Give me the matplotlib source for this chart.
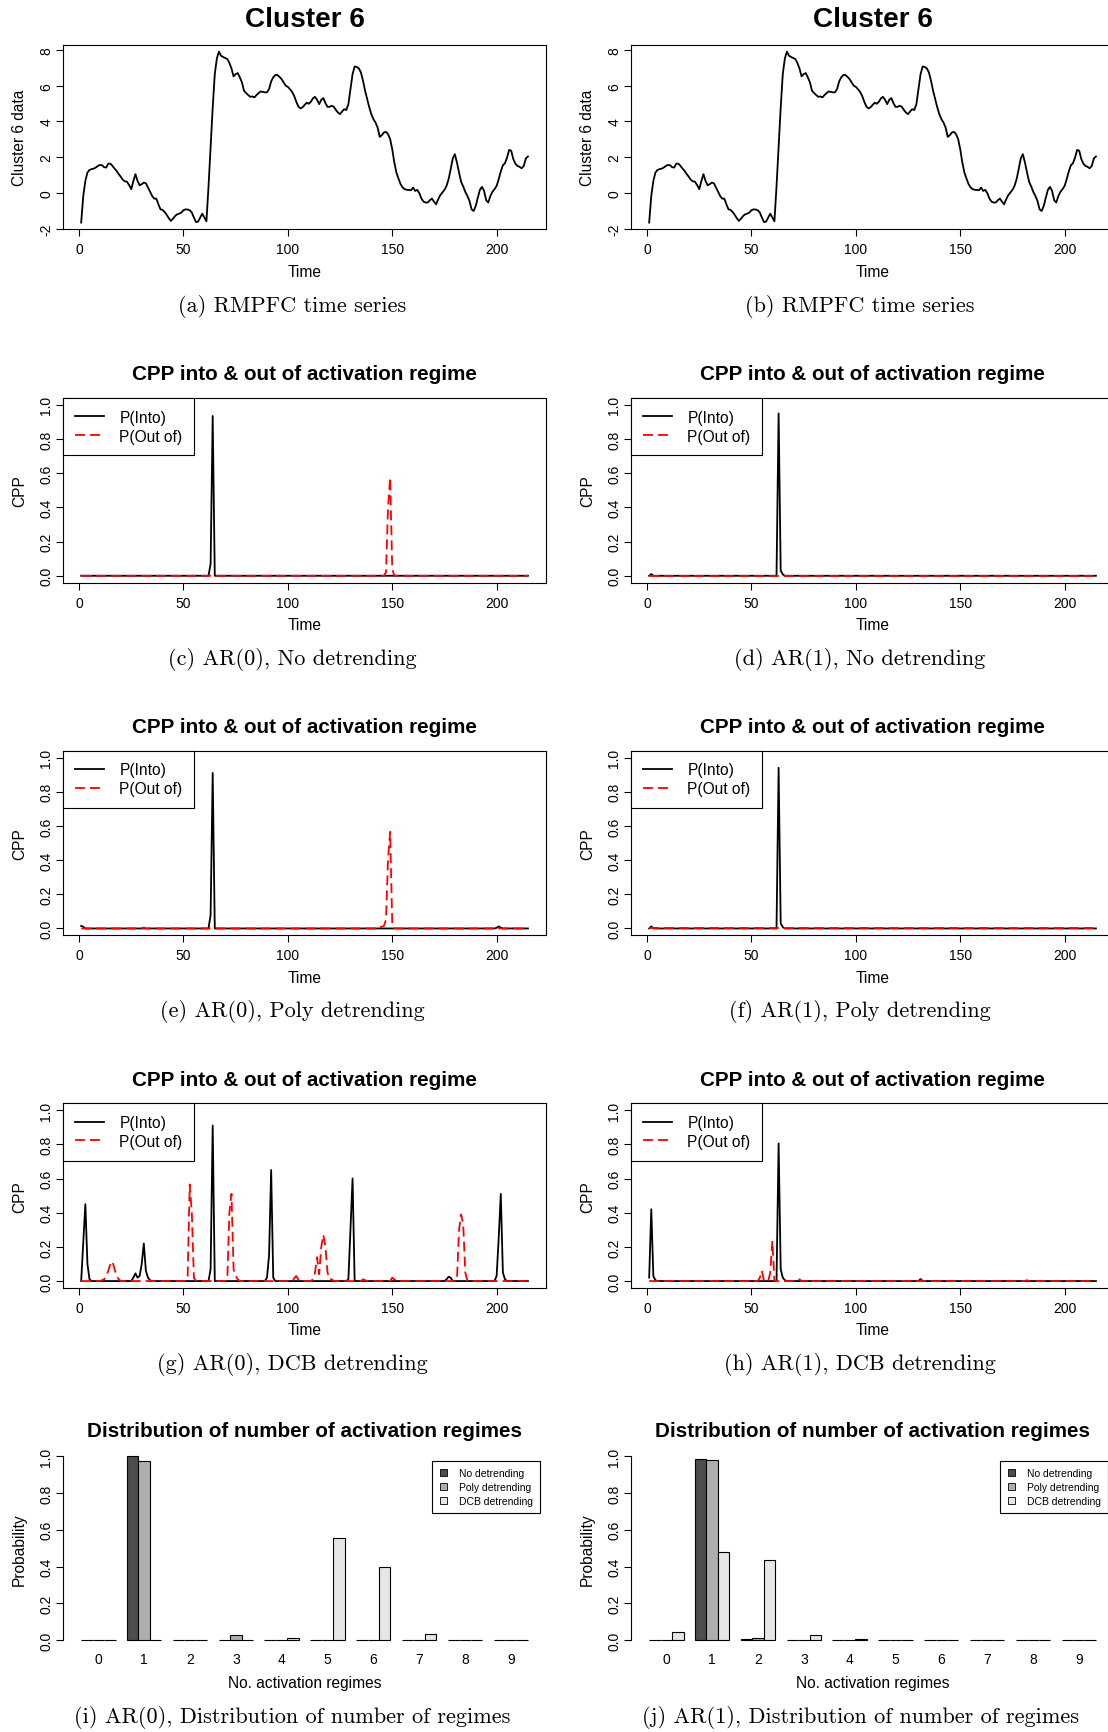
import numpy as np
import matplotlib
matplotlib.use("Agg")
import matplotlib.pyplot as plt
from matplotlib.patches import Patch

plt.rcParams['font.family'] = ['Liberation Sans', 'DejaVu Sans']
plt.rcParams['axes.unicode_minus'] = False

# RMPFC cluster 6 signal, t = 1..215
cluster6 = [
    -1.66, -0.17, 0.67, 1.14, 1.29, 1.33, 1.36, 1.42, 1.51, 1.57,
    1.55, 1.44, 1.42, 1.64, 1.64, 1.51, 1.36, 1.23, 1.05, 0.90,
    0.73, 0.65, 0.62, 0.43, 0.21, 0.67, 1.05, 0.67, 0.43, 0.49,
    0.58, 0.54, 0.30, 0.06, -0.17, -0.32, -0.32, -0.64, -0.92, -0.95,
    -1.07, -1.23, -1.42, -1.57, -1.44, -1.29, -1.20, -1.16, -1.10, -0.97,
    -0.92, -0.93, -0.97, -1.10, -1.38, -1.63, -1.61, -1.38, -1.16, -1.38,
    -1.59, 0.36, 2.56, 4.77, 6.65, 7.53, 7.91, 7.68, 7.61, 7.55,
    7.50, 7.27, 6.97, 6.52, 6.65, 6.71, 6.47, 6.19, 5.72, 5.59,
    5.48, 5.38, 5.40, 5.35, 5.48, 5.59, 5.68, 5.66, 5.63, 5.63,
    5.81, 6.24, 6.47, 6.60, 6.60, 6.50, 6.37, 6.19, 6.00, 5.94,
    5.81, 5.66, 5.44, 5.12, 4.84, 4.73, 4.79, 4.92, 5.05, 4.99,
    5.10, 5.29, 5.38, 5.21, 4.97, 5.21, 5.31, 5.03, 4.82, 4.82,
    4.88, 4.82, 4.65, 4.50, 4.41, 4.56, 4.69, 4.64, 4.97, 5.81,
    6.65, 7.08, 7.05, 6.97, 6.75, 6.28, 5.72, 5.25, 4.79, 4.41,
    4.13, 3.94, 3.66, 3.14, 3.23, 3.38, 3.42, 3.29, 3.01, 2.45,
    1.70, 1.14, 0.80, 0.49, 0.30, 0.21, 0.17, 0.17, 0.15, 0.30,
    0.11, 0.17, -0.02, -0.32, -0.49, -0.54, -0.54, -0.41, -0.32, -0.49,
    -0.64, -0.36, -0.13, 0.02, 0.17, 0.39, 0.77, 1.33, 1.93, 2.17,
    1.70, 1.14, 0.62, 0.36, 0.06, -0.17, -0.45, -0.92, -1.01, -0.73,
    -0.26, 0.17, 0.34, 0.11, -0.41, -0.54, -0.17, 0.06, 0.21, 0.39,
    0.77, 1.20, 1.55, 1.66, 1.98, 2.41, 2.36, 1.89, 1.64, 1.51,
    1.46, 1.38, 1.51, 1.93, 2.04,
]
n_time = len(cluster6)

# change-point probabilities, {time: prob}; zero at every other time
into_ar0_none = {63: 0.07, 64: 0.935}
out_ar0_none = {147: 0.02, 148: 0.40, 149: 0.575, 150: 0.04}
into_ar1_none = {2: 0.01, 63: 0.95, 64: 0.03, 65: 0.008}
out_ar1_none = {}
into_ar0_poly = {1: 0.015, 2: 0.01, 63: 0.08, 64: 0.91, 200: 0.004, 201: 0.012, 202: 0.005}
out_ar0_poly = {31: 0.006, 144: 0.008, 145: 0.01, 146: 0.015, 147: 0.05,
                148: 0.41, 149: 0.565, 150: 0.03, 200: 0.004}
into_ar1_poly = {2: 0.012, 63: 0.94, 64: 0.03, 65: 0.008}
out_ar1_poly = {}
into_ar0_dcb = {2: 0.22, 3: 0.45, 4: 0.10, 5: 0.01,
                26: 0.02, 27: 0.045, 28: 0.02, 29: 0.03, 30: 0.10, 31: 0.22,
                32: 0.06, 33: 0.02, 34: 0.005,
                63: 0.07, 64: 0.91,
                90: 0.02, 91: 0.15, 92: 0.65, 93: 0.02,
                129: 0.01, 130: 0.30, 131: 0.60,
                176: 0.01, 177: 0.025, 178: 0.02,
                200: 0.03, 201: 0.25, 202: 0.51, 203: 0.05, 204: 0.01}
out_ar0_dcb = {11: 0.005, 12: 0.01, 13: 0.03, 14: 0.06, 15: 0.10, 16: 0.115,
               17: 0.07, 18: 0.03, 19: 0.01,
               52: 0.03, 53: 0.565, 54: 0.40, 55: 0.02,
               71: 0.01, 72: 0.40, 73: 0.51, 74: 0.07, 75: 0.03, 76: 0.01,
               103: 0.015, 104: 0.03, 105: 0.01,
               112: 0.01, 113: 0.05, 114: 0.14, 115: 0.04, 116: 0.20, 117: 0.27,
               118: 0.20, 119: 0.05, 120: 0.01, 121: 0.01,
               136: 0.01, 137: 0.005, 150: 0.02, 151: 0.01,
               181: 0.01, 182: 0.30, 183: 0.39, 184: 0.33, 185: 0.05}
into_ar1_dcb = {1: 0.02, 2: 0.42, 3: 0.03, 4: 0.005,
                63: 0.805, 64: 0.07, 65: 0.02, 66: 0.005, 131: 0.012}
out_ar1_dcb = {54: 0.02, 55: 0.06, 59: 0.05, 60: 0.235,
               71: 0.01, 72: 0.012, 73: 0.01, 78: 0.012, 182: 0.005}

# posterior distribution of the number of activation regimes
n_regimes = list(range(10))
ar0_no_detrend = [0, 1.0, 0.003, 0, 0.002, 0, 0, 0, 0, 0]
ar0_poly_detrend = [0, 0.973, 0.002, 0.027, 0.002, 0, 0, 0, 0, 0]
ar0_dcb_detrend = [0, 0, 0, 0, 0.012, 0.555, 0.398, 0.035, 0.001, 0]
ar1_no_detrend = [0.002, 0.985, 0.008, 0, 0, 0, 0, 0, 0, 0]
ar1_poly_detrend = [0.001, 0.98, 0.013, 0.001, 0.002, 0, 0, 0, 0, 0]
ar1_dcb_detrend = [0.047, 0.48, 0.435, 0.026, 0.006, 0.002, 0, 0, 0, 0]

detrend_names = ['No detrending', 'Poly detrending', 'DCB detrending']
bar_greys = ['#4D4D4D', '#AEAEAE', '#E6E6E6']

W, H = 1108, 1733
fig = plt.figure(figsize=(W / 100, H / 100), dpi=100)

COL_X = [63.3, 631.3]
CAP_X = [292.0, 860.0]
AX_W, AX_H = 482.5, 184.6
ROW_TOP = [45.8, 399.0, 751.7, 1104.3]
ROW_STEP = 352.7
BAR_TOP, BAR_H = 1450.0, 198.5

TICK_FS, LAB_FS, TITLE_FS = 10, 11.2, 14.9
LW = 1.3


def add_axes_px(left, top, width, height):
    return fig.add_axes([left / W, 1 - (top + height) / H, width / W, height / H])


def r_axes(ax):
    for s in ax.spines.values():
        s.set_linewidth(0.8)
    ax.tick_params(direction='out', length=4.8, width=0.8, labelsize=TICK_FS)
    ax.tick_params(axis='x', pad=4.5)
    ax.tick_params(axis='y', pad=2.5, labelrotation=90)


def finish_labels(ax, xlab, ylab, h, xlab_off=42):
    for lbl in ax.get_yticklabels():
        lbl.set_va('center')
    ax.text(0.5, -xlab_off / h, xlab, transform=ax.transAxes,
            ha='center', va='center', fontsize=LAB_FS)
    ax.text(-44 / AX_W, 0.5, ylab, transform=ax.transAxes, rotation=90,
            ha='center', va='center', fontsize=LAB_FS)


def r_range(lo, hi):
    pad = 0.04 * (hi - lo)
    return lo - pad, hi + pad


def fig_text(x, y, s, **kw):
    fig.text(x / W, 1 - y / H, s, ha='center', va='center', **kw)


def expand(probs):
    vals = np.zeros(n_time)
    for t, p in probs.items():
        vals[t - 1] = p
    return vals


t = np.arange(1, n_time + 1)
xlim = r_range(1, n_time)

# row 1: raw time series
for col in range(2):
    ax = add_axes_px(COL_X[col], ROW_TOP[0], AX_W, AX_H)
    ax.plot(t, cluster6, color='black', lw=LW)
    ax.set_xlim(*xlim)
    ax.set_ylim(*r_range(min(cluster6), max(cluster6)))
    ax.set_xticks([0, 50, 100, 150, 200])
    ax.set_yticks([-2, 0, 2, 4, 6, 8])
    r_axes(ax)
    finish_labels(ax, 'Time', 'Cluster 6 data', AX_H)
    fig_text(COL_X[col] + AX_W / 2, 20, 'Cluster 6', fontsize=20.2, fontweight='bold')

# rows 2-4: change-point probabilities
cpp_panels = [
    [(into_ar0_none, out_ar0_none), (into_ar1_none, out_ar1_none)],
    [(into_ar0_poly, out_ar0_poly), (into_ar1_poly, out_ar1_poly)],
    [(into_ar0_dcb, out_ar0_dcb), (into_ar1_dcb, out_ar1_dcb)],
]
for r, row in enumerate(cpp_panels, start=1):
    for col, (p_into, p_out) in enumerate(row):
        ax = add_axes_px(COL_X[col], ROW_TOP[r], AX_W, AX_H)
        ax.plot(t, expand(p_into), color='black', lw=LW, label='P(Into)')
        ax.plot(t, expand(p_out), color='red', lw=LW, linestyle=(0, (5.5, 2.8)),
                label='P(Out of)')
        ax.set_xlim(*xlim)
        ax.set_ylim(*r_range(0, 1))
        ax.set_xticks([0, 50, 100, 150, 200])
        ax.set_yticks(np.arange(0, 1.01, 0.2))
        ax.set_yticklabels(['0.0', '0.2', '0.4', '0.6', '0.8', '1.0'])
        r_axes(ax)
        leg = ax.legend(loc='upper left', borderaxespad=0, fontsize=LAB_FS,
                        fancybox=False, edgecolor='black', framealpha=1,
                        borderpad=0.75, labelspacing=0.25, handlelength=1.86,
                        handletextpad=1.0)
        leg.get_frame().set_linewidth(0.8)
        finish_labels(ax, 'Time', 'CPP', AX_H)
        fig_text(COL_X[col] + AX_W / 2, ROW_TOP[r] - 24,
                 'CPP into & out of activation regime',
                 fontsize=TITLE_FS, fontweight='bold')

# row 5: number of activation regimes
bar_sets = [
    [ar0_no_detrend, ar0_poly_detrend, ar0_dcb_detrend],
    [ar1_no_detrend, ar1_poly_detrend, ar1_dcb_detrend],
]
group_x = np.array(n_regimes) * 4 + 2.5
for col, series in enumerate(bar_sets):
    ax = add_axes_px(COL_X[col], BAR_TOP, AX_W, BAR_H)
    for k, vals in enumerate(series):
        ax.bar(group_x - 1 + k, vals, width=1.0, color=bar_greys[k],
               edgecolor='black', linewidth=0.8)
    ax.set_xlim(*r_range(1, 40))
    ax.set_ylim(*r_range(0, 1))
    for side in ['top', 'right', 'bottom']:
        ax.spines[side].set_visible(False)
    ax.spines['left'].set_bounds(0, 1)
    ax.set_xticks(group_x)
    ax.set_xticklabels([str(v) for v in n_regimes])
    ax.set_yticks(np.arange(0, 1.01, 0.2))
    ax.set_yticklabels(['0.0', '0.2', '0.4', '0.6', '0.8', '1.0'])
    r_axes(ax)
    ax.tick_params(axis='x', length=0, pad=3.2)
    handles = [Patch(facecolor=c, edgecolor='black', linewidth=0.6) for c in bar_greys]
    leg = ax.legend(handles, detrend_names, loc='upper right',
                    bbox_to_anchor=(0.988, 0.941), borderaxespad=0, fontsize=7.45,
                    fancybox=False, edgecolor='black', framealpha=1,
                    borderpad=0.7, labelspacing=0.4, handlelength=0.75,
                    handleheight=0.75, handletextpad=1.1)
    leg.get_frame().set_linewidth(0.8)
    finish_labels(ax, 'No. activation regimes', 'Probability', BAR_H, xlab_off=35.5)
    fig_text(COL_X[col] + AX_W / 2, 1432, 'Distribution of number of activation regimes',
             fontsize=TITLE_FS, fontweight='bold')

# sub-figure captions
captions = [
    ['(a) RMPFC time series', '(b) RMPFC time series'],
    ['(c) AR(0), No detrending', '(d) AR(1), No detrending'],
    ['(e) AR(0), Poly detrending', '(f) AR(1), Poly detrending'],
    ['(g) AR(0), DCB detrending', '(h) AR(1), DCB detrending'],
    ['(i) AR(0), Distribution of number of regimes',
     '(j) AR(1), Distribution of number of regimes'],
]
for r, pair in enumerate(captions):
    for col, cap in enumerate(pair):
        fig_text(CAP_X[col], 306.5 + ROW_STEP * r, cap, family='cmr10', fontsize=16)

fig.savefig('out.png', dpi=100)
